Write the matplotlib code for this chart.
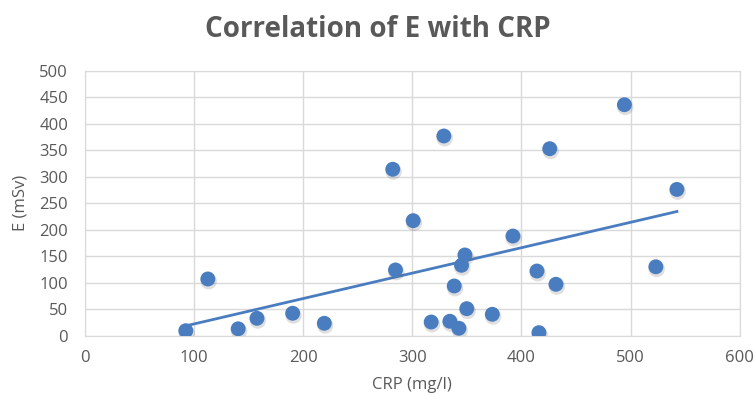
import numpy as np
import matplotlib.pyplot as plt
from matplotlib.transforms import offset_copy

# CRP (mg/l) vs effective dose E (mSv)
crp = [92.6, 112.8, 140.6, 157.8, 190.5, 219.5, 282.2, 284.7, 300.9, 317.4,
       329.0, 334.5, 338.5, 342.8, 345.2, 348.3, 350.0, 373.4, 392.3, 414.3,
       416.1, 426.0, 431.7, 494.4, 523.2, 542.5]
dose = [9.4, 107.0, 13.0, 32.8, 42.3, 23.4, 314.0, 124.0, 217.0, 25.8,
        376.8, 27.2, 93.8, 14.0, 132.8, 152.3, 51.0, 40.4, 188.0, 122.0,
        5.7, 352.8, 97.0, 435.8, 130.0, 276.0]

x_ticks = [0, 100, 200, 300, 400, 500, 600]
y_ticks = [0, 50, 100, 150, 200, 250, 300, 350, 400, 450, 500]

BLUE = "#4a7cc0"
GRAY_TEXT = "#595959"
GRID = "#d9d9d9"
FONT = "Open Sans"

fig = plt.figure(figsize=(7.55, 3.96), dpi=100)
ax = fig.add_axes([0.1122, 0.1523, 0.8675, 0.6692])

x = np.array(crp)
y = np.array(dose)

# linear trendline spanning the data range
slope, intercept = np.polyfit(x, y, 1)
xt = np.array([x.min(), x.max()])
ax.plot(xt, slope * xt + intercept, color=BLUE, lw=2, zorder=2)

# soft drop shadow under each marker
shadow_tr = offset_copy(ax.transData, fig=fig, x=0.6, y=-1.6, units="points")
ax.scatter(x, y, s=140, color="#606060", alpha=0.2, edgecolors="none",
           transform=shadow_tr, zorder=2.5)
ax.scatter(x, y, s=115, color=BLUE, edgecolors="none", zorder=3)

ax.set_xlim(0, 600)
ax.set_ylim(0, 500)
ax.set_xticks(x_ticks)
ax.set_yticks(y_ticks)
ax.grid(True, color=GRID, lw=1)
ax.set_axisbelow(True)
for s in ax.spines.values():
    s.set_color(GRID)
ax.tick_params(length=0, colors=GRAY_TEXT, labelsize=12)
ax.tick_params(axis="x", pad=10)
ax.tick_params(axis="y", pad=12)
for t in ax.get_xticklabels() + ax.get_yticklabels():
    t.set_family(FONT)

ax.set_xlabel("CRP (mg/l)", color=GRAY_TEXT, fontsize=12, labelpad=8, family=FONT)
ax.set_ylabel("E (mSv)", color=GRAY_TEXT, fontsize=12, labelpad=8, family=FONT)

fig.text(0.5, 0.925, "Correlation of E with CRP", ha="center", va="center",
         fontsize=20, fontweight="bold", color=GRAY_TEXT, family=FONT)

fig.savefig("out.png", dpi=100, facecolor="white")
